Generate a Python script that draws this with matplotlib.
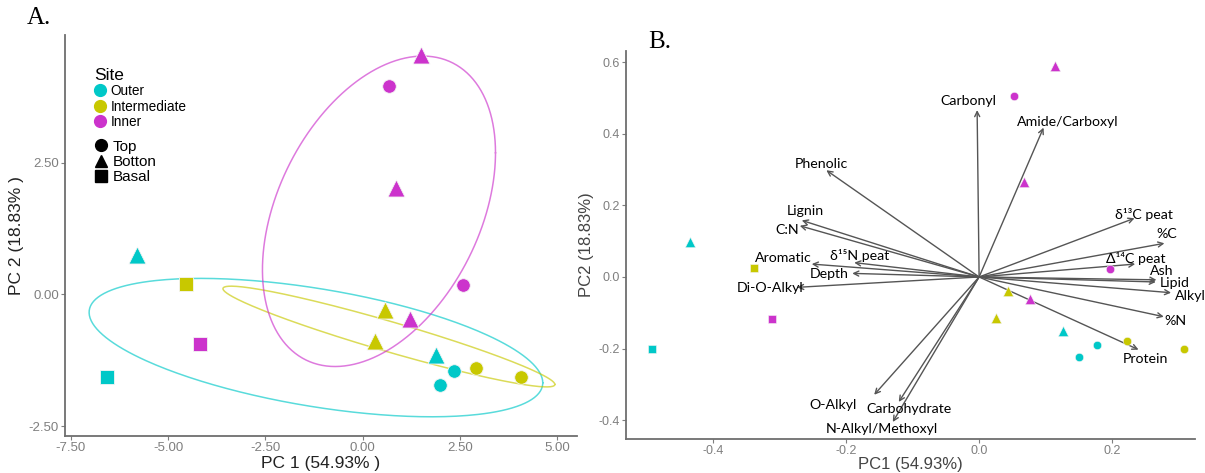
import numpy as np
import matplotlib.pyplot as plt
from matplotlib.lines import Line2D

plt.rcParams['axes.unicode_minus'] = False

# colours per site
site_names = ['Outer', 'Intermediate', 'Inner']
site_cols = {'Outer': '#00C8C8', 'Intermediate': '#C8C800', 'Inner': '#CC33CC'}
depth_names = ['Top', 'Botton', 'Basal']
depth_mark = {'Top': 'o', 'Botton': '^', 'Basal': 's'}

# panel A: PCA scores
site_a = ['Inner', 'Inner', 'Inner', 'Outer', 'Intermediate', 'Inner', 'Intermediate', 'Inner',
          'Inner', 'Intermediate', 'Outer', 'Outer', 'Intermediate', 'Intermediate', 'Outer', 'Outer']
depth_a = ['Botton', 'Top', 'Botton', 'Botton', 'Basal', 'Top', 'Botton', 'Botton',
           'Basal', 'Botton', 'Botton', 'Top', 'Top', 'Top', 'Top', 'Basal']
pc1_a = [1.50, 0.67, 0.86, -5.80, -4.54, 2.59, 0.57, 1.21,
         -4.18, 0.33, 1.88, 2.34, 2.91, 4.06, 1.99, -6.57]
pc2_a = [4.55, 3.96, 2.03, 0.74, 0.20, 0.17, -0.29, -0.47,
         -0.94, -0.88, -1.16, -1.46, -1.39, -1.57, -1.73, -1.57]

# panel A: ellipse centre and shape matrix [sxx, sxy, syy]
ell_site = ['Outer', 'Intermediate', 'Inner']
ell_cx = [-1.20, 0.675, 0.42]
ell_cy = [-1.01, -0.80, 1.58]
ell_shape = [[33.99, -3.9, 1.729], [18.19, -3.88, 0.916], [8.97, 3.33, 8.70]]

# panel B: biplot scores
site_b = ['Inner', 'Inner', 'Inner', 'Outer', 'Intermediate', 'Inner', 'Outer', 'Inner',
          'Intermediate', 'Intermediate', 'Outer', 'Intermediate', 'Outer', 'Outer', 'Intermediate', 'Inner']
depth_b = ['Botton', 'Top', 'Botton', 'Botton', 'Basal', 'Top', 'Basal', 'Botton',
           'Botton', 'Botton', 'Botton', 'Top', 'Top', 'Top', 'Top', 'Basal']
pc1_b = [0.114, 0.053, 0.067, -0.436, -0.339, 0.197, -0.493, 0.076,
         0.044, 0.025, 0.127, 0.223, 0.178, 0.150, 0.309, -0.312]
pc2_b = [0.589, 0.505, 0.264, 0.097, 0.026, 0.022, -0.202, -0.062,
         -0.039, -0.114, -0.150, -0.179, -0.189, -0.223, -0.202, -0.118]

# panel B: loadings
var_names = ['Carbonyl', 'Amide/Carboxyl', 'Phenolic', 'Lignin', 'C:N', 'δ¹³C peat', '%C',
             'Δ¹⁴C peat', 'Ash', 'Lipid', 'Alkyl', '%N', 'Protein', 'Aromatic', 'δ¹⁵N peat',
             'Depth', 'Di-O-Alkyl', 'O-Alkyl', 'Carbohydrate', 'N-Alkyl/Methoxyl']
load_x = [-0.003, 0.097, -0.230, -0.267, -0.270, 0.234, 0.279, 0.235, 0.267, 0.266, 0.289,
          0.278, 0.240, -0.252, -0.188, -0.191, -0.274, -0.158, -0.121, -0.130]
load_y = [0.466, 0.417, 0.298, 0.158, 0.143, 0.164, 0.094, 0.036, -0.008, -0.014, -0.044,
          -0.111, -0.203, 0.036, 0.040, 0.010, -0.029, -0.329, -0.349, -0.405]
lab_x = [-0.016, 0.134, -0.237, -0.261, -0.289, 0.248, 0.283, 0.236, 0.275, 0.294, 0.318,
         0.296, 0.250, -0.295, -0.180, -0.225, -0.315, -0.220, -0.106, -0.147]
lab_y = [0.490, 0.432, 0.315, 0.184, 0.131, 0.175, 0.120, 0.052, 0.017, -0.016, -0.053,
         -0.122, -0.230, 0.052, 0.061, 0.008, -0.032, -0.358, -0.370, -0.425]

W, H = 1205, 473
fig = plt.figure(figsize=(W / 100, H / 100), dpi=100)

tick_col = '#7f7f7f'
spine_col = '#6e6e6e'


def style(ax):
    for s in ['top', 'right']:
        ax.spines[s].set_visible(False)
    for s in ['left', 'bottom']:
        ax.spines[s].set_color(spine_col)
        ax.spines[s].set_linewidth(1.3)
    ax.tick_params(colors=tick_col, labelcolor=tick_col, length=3, width=0.8,
                   labelsize=9.5, pad=1.5)
    for lab in ax.get_xticklabels() + ax.get_yticklabels():
        lab.set_family('Liberation Sans')


# ---------- panel A ----------
axA = fig.add_axes([65 / W, 1 - 436 / H, (577 - 65) / W, (436 - 35) / H])
axA.set_xlim(-7.65, 5.51)
axA.set_ylim(-2.69, 4.93)

t = np.linspace(0, 2 * np.pi, 300)
for s, cx, cy, (sxx, sxy, syy) in zip(ell_site, ell_cx, ell_cy, ell_shape):
    L = np.linalg.cholesky(np.array([[sxx, sxy], [sxy, syy]]))
    pts = L @ np.vstack([np.cos(t), np.sin(t)])
    axA.plot(cx + pts[0], cy + pts[1], color=site_cols[s], lw=1.1, alpha=0.65, zorder=1)

size_a = {'o': 95, '^': 150, 's': 95}
for x, y, s, d in zip(pc1_a, pc2_a, site_a, depth_a):
    m = depth_mark[d]
    axA.scatter(x, y, s=size_a[m], marker=m, color=site_cols[s], edgecolors='#f4f4f4',
                linewidths=0.6, zorder=3)

axA.set_xticks([-7.5, -5, -2.5, 0, 2.5, 5])
axA.set_yticks([-2.5, 0, 2.5])
axA.xaxis.set_major_formatter(plt.FormatStrFormatter('%.2f'))
axA.yaxis.set_major_formatter(plt.FormatStrFormatter('%.2f'))
style(axA)
axA.set_xlabel('PC 1 (54.93% )', fontsize=12.5, family='Liberation Sans', color='#222222', labelpad=1)
axA.set_ylabel('PC 2 (18.83% )', fontsize=12.5, family='Liberation Sans', color='#222222', labelpad=3)

h1 = [Line2D([], [], ls='none', marker='o', ms=8.5, color=site_cols[n]) for n in site_names]
leg1 = axA.legend(h1, site_names, title='Site', loc='upper left',
                  bbox_to_anchor=(87 / W, 1 - 61 / H), bbox_transform=fig.transFigure,
                  frameon=False, borderpad=0,
                  handlelength=0.9, handletextpad=0.35, labelspacing=0.1,
                  prop={'family': 'Liberation Sans', 'size': 9.8}, alignment='left')
leg1.get_title().set_family('Liberation Sans')
leg1.get_title().set_fontsize(12.5)
axA.add_artist(leg1)
h2 = [Line2D([], [], ls='none', marker=depth_mark[n], ms=8.5, color='black') for n in depth_names]
axA.legend(h2, depth_names, loc='upper left',
           bbox_to_anchor=(86 / W, 1 - 132 / H), bbox_transform=fig.transFigure,
           frameon=False, borderpad=0, handlelength=0.9, handletextpad=0.35,
           labelspacing=0.08, prop={'family': 'Liberation Sans', 'size': 11})

fig.text(27 / W, 1 - 18 / H, 'A.', fontsize=18, family='Liberation Serif', va='center', ha='left')

# ---------- panel B ----------
axB = fig.add_axes([626 / W, 1 - 439 / H, (1195 - 626) / W, (439 - 51) / H])
axB.set_xlim(-0.5316, 0.325)
axB.set_ylim(-0.4525, 0.631)

size_b = {'o': 36, '^': 55, 's': 36}
for x, y, s, d in zip(pc1_b, pc2_b, site_b, depth_b):
    m = depth_mark[d]
    axB.scatter(x, y, s=size_b[m], marker=m, color=site_cols[s], edgecolors='#f4f4f4',
                linewidths=0.4, zorder=3)

for name, lx, ly, tx, ty in zip(var_names, load_x, load_y, lab_x, lab_y):
    axB.annotate('', xy=(lx, ly), xytext=(0, 0),
                 arrowprops=dict(arrowstyle='->', color='#555555', lw=1.0,
                                 shrinkA=0, shrinkB=0, mutation_scale=9), zorder=2)
    axB.text(tx, ty, name, fontsize=10.2, family=['Lato', 'DejaVu Sans'], ha='center',
             va='center', color='black', clip_on=False, zorder=4)

axB.set_xticks([-0.4, -0.2, 0.0, 0.2])
axB.set_yticks([-0.4, -0.2, 0.0, 0.2, 0.4, 0.6])
axB.xaxis.set_major_formatter(plt.FormatStrFormatter('%.1f'))
axB.yaxis.set_major_formatter(plt.FormatStrFormatter('%.1f'))
style(axB)
axB.tick_params(labelsize=9)
axB.set_xlabel('PC1 (54.93%)', fontsize=12, family='Liberation Sans', color='#444444', labelpad=0)
axB.set_ylabel('PC2 (18.83%)', fontsize=12, family='Liberation Sans', color='#444444', labelpad=3)

fig.text(648 / W, 1 - 42 / H, 'B.', fontsize=18, family='Liberation Serif', va='center', ha='left')

fig.savefig('out.png', dpi=100)
